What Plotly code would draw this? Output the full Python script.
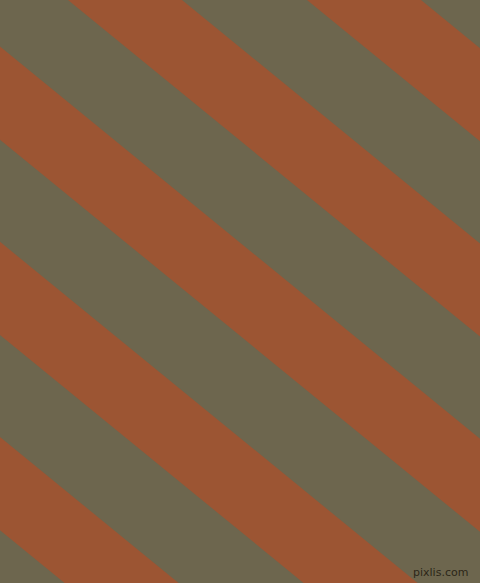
import plotly.graph_objects as go

# 배경 이미지 크기 (px)
img_w = 480
img_h = 583

# 줄무늬 데이터: 상단(y=0)에서 각 주황 줄무늬 왼쪽 경계의 x 위치
stripe_top_x = [-649, -410, -171, 68, 307]
stripe_width = 114        # 가로 방향 줄무늬 폭
stripe_slope = 0.817      # 기울기 (아래로 갈수록 오른쪽)

bg_color = '#6d664e'
stripe_color = '#9c5533'

fig = go.Figure()

for x0 in stripe_top_x:
    dx = img_h / stripe_slope
    xs = [x0, x0 + stripe_width, x0 + stripe_width + dx, x0 + dx, x0]
    ys = [0, 0, img_h, img_h, 0]
    fig.add_trace(go.Scatter(
        x=xs, y=ys,
        mode='lines',
        fill='toself',
        fillcolor=stripe_color,
        line=dict(width=0, color=stripe_color),
        hoverinfo='skip',
        showlegend=False
    ))

# 워터마크
fig.add_annotation(
    x=470, y=581,
    xref='x', yref='y',
    text='pixlis.com',
    showarrow=False,
    xanchor='right', yanchor='bottom',
    font=dict(family='DejaVu Sans', size=11, color='#2c2618')
)

fig.update_xaxes(range=[0, img_w], visible=False, fixedrange=True)
fig.update_yaxes(range=[img_h, 0], visible=False, fixedrange=True)

fig.update_layout(
    width=img_w,
    height=img_h,
    margin=dict(l=0, r=0, t=0, b=0),
    plot_bgcolor=bg_color,
    paper_bgcolor=bg_color,
    showlegend=False
)

fig.write_html('out.html', config={'displayModeBar': False},
               post_script="document.body.style.margin='0';")
